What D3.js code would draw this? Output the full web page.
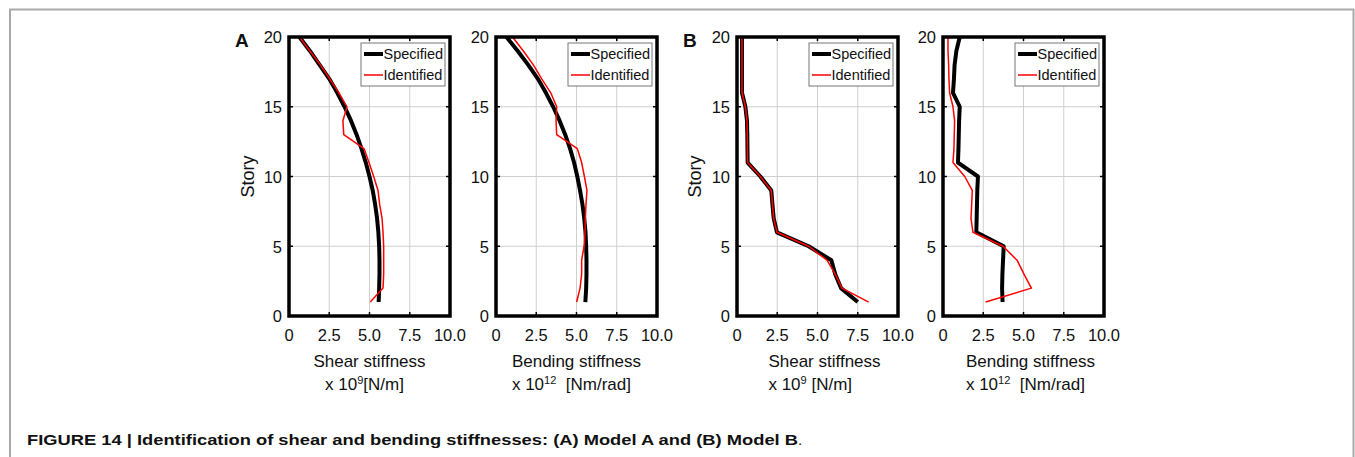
<!DOCTYPE html>
<html>
<head>
<meta charset="utf-8">
<script src="https://cdn.jsdelivr.net/npm/d3@7"></script>
<style>
html,body{margin:0;padding:0;background:#fff;}
svg{display:block;font-family:"Liberation Sans",Arial,Helvetica,sans-serif;}
</style>
</head>
<body>
<svg id="chart" width="1355" height="457"></svg>
<script>
// ---- data ----
const stories = [1,2,3,4,5,6,7,8,9,10,11,12,13,14,15,16,17,18,19,20];
const xTicks = [0, 2.5, 5, 7.5, 10];
const xTickLabels = ["0", "2.5", "5.0", "7.5", "10.0"];
const yTicks = [0, 5, 10, 15, 20];
const seriesNames = ["Specified", "Identified"];

const aShearSpecified   = [5.57,5.6,5.62,5.62,5.6,5.55,5.47,5.35,5.2,5.0,4.77,4.5,4.2,3.85,3.45,3.0,2.5,1.9,1.3,0.65];
const aShearIdentified  = [5.05,5.84,5.88,5.88,5.88,5.84,5.78,5.63,5.53,5.26,4.97,4.66,3.4,3.35,3.6,3.1,2.53,1.95,1.3,0.65];
const aBendSpecified    = [5.55,5.6,5.62,5.62,5.6,5.56,5.48,5.37,5.22,5.05,4.85,4.6,4.3,3.95,3.55,3.1,2.6,2.0,1.35,0.65];
const aBendIdentified   = [5.01,5.22,5.32,5.32,5.47,5.53,5.55,5.59,5.65,5.49,5.32,5.05,3.77,3.73,3.77,3.4,2.84,2.32,1.7,1.03];
const bShearSpecified   = [7.5,6.46,6.1,5.86,4.45,2.48,2.28,2.2,2.13,1.45,0.66,0.65,0.64,0.62,0.52,0.31,0.31,0.31,0.31,0.31];
const bShearIdentified  = [8.18,6.52,6.1,5.59,4.45,2.48,2.28,2.2,2.13,1.45,0.66,0.65,0.64,0.62,0.52,0.31,0.31,0.31,0.31,0.31];
const bBendSpecified    = [3.7,3.67,3.69,3.73,3.77,2.07,2.09,2.11,2.13,2.17,0.93,0.96,0.98,1.0,1.04,0.62,0.68,0.72,0.83,1.04];
const bBendIdentified   = [2.65,5.49,5.03,4.6,3.73,1.86,1.74,1.78,1.82,1.35,0.62,0.68,0.7,0.72,0.62,0.41,0.37,0.35,0.31,0.31];

const panels = [
  {x0:289, spec:aShearSpecified, ident:aShearIdentified, title:"Shear stiffness", exp:"9", unit:"[N/m]", gap:"", story:true, storyDx:35, letter:"A", titleDx:0, center2:true},
  {x0:496, spec:aBendSpecified,  ident:aBendIdentified,  title:"Bending stiffness", exp:"12", unit:"[Nm/rad]", gap:"\u00a0\u00a0", story:false, titleDx:0, center2:false},
  {x0:737, spec:bShearSpecified, ident:bShearIdentified, title:"Shear stiffness", exp:"9", unit:"[N/m]", gap:"\u00a0", story:true, storyDx:36, letter:"B", titleDx:7, center2:false},
  {x0:943, spec:bBendSpecified,  ident:bBendIdentified,  title:"Bending stiffness", exp:"12", unit:"[Nm/rad]", gap:"\u00a0\u00a0", story:false, titleDx:7, center2:false}
];

const svg = d3.select("#chart");
// page frame
svg.append("path").attr("d","M10,457V9.5H1353.5V457").attr("fill","none").attr("stroke","#a9a9a9").attr("stroke-width",2);

const W = 161, yTop = 37, yBot = 316;
const y = d3.scaleLinear().domain([0,20]).range([yBot, yTop]);

panels.forEach(p => {
  const x = d3.scaleLinear().domain([0,10]).range([p.x0, p.x0 + W]);
  const g = svg.append("g");
  // grid
  g.selectAll(".gx").data([2.5,5,7.5]).enter().append("line")
    .attr("x1", d=>x(d)).attr("x2", d=>x(d)).attr("y1", yTop).attr("y2", yBot)
    .attr("stroke","#cfcfcf").attr("stroke-width",1);
  g.selectAll(".gy").data([5,10,15]).enter().append("line")
    .attr("y1", d=>y(d)).attr("y2", d=>y(d)).attr("x1", p.x0).attr("x2", p.x0+W)
    .attr("stroke","#cfcfcf").attr("stroke-width",1);
  // inward ticks
  const tl = 4;
  [5,10,15].forEach(v => {
    g.append("line").attr("x1",p.x0).attr("x2",p.x0+tl).attr("y1",y(v)).attr("y2",y(v)).attr("stroke","#000").attr("stroke-width",1.5);
    g.append("line").attr("x1",p.x0+W).attr("x2",p.x0+W-tl).attr("y1",y(v)).attr("y2",y(v)).attr("stroke","#000").attr("stroke-width",1.5);
  });
  [2.5,5,7.5].forEach(v => {
    g.append("line").attr("x1",x(v)).attr("x2",x(v)).attr("y1",yBot).attr("y2",yBot-tl).attr("stroke","#000").attr("stroke-width",1.5);
    g.append("line").attr("x1",x(v)).attr("x2",x(v)).attr("y1",yTop).attr("y2",yTop+tl).attr("stroke","#000").attr("stroke-width",1.5);
  });
  // x tick labels
  g.selectAll(".xt").data(xTicks).enter().append("text")
    .attr("x", d=>x(d)).attr("y", 341).attr("text-anchor","middle")
    .attr("font-size", "16.5px").attr("fill","#111")
    .text((d,i)=>xTickLabels[i]);
  // y tick labels
  g.selectAll(".yt").data(yTicks).enter().append("text")
    .attr("x", p.x0 - 7).attr("y", d=>y(d)).attr("dy","0.38em").attr("text-anchor","end")
    .attr("font-size", "16.5px").attr("fill","#111")
    .text(d=>d);
  // lines
  const line = d3.line().x(d=>x(d[0])).y(d=>y(d[1]));
  g.append("path").datum(p.spec.map((v,i)=>[v,stories[i]])).attr("d",line)
    .attr("fill","none").attr("stroke","#000").attr("stroke-width",4).attr("stroke-linejoin","round");
  g.append("path").datum(p.ident.map((v,i)=>[v,stories[i]])).attr("d",line)
    .attr("fill","none").attr("stroke","#ff0000").attr("stroke-width",1.5).attr("stroke-linejoin","round");
  // border
  g.append("rect").attr("x",p.x0).attr("y",yTop).attr("width",W).attr("height",yBot-yTop)
    .attr("fill","none").attr("stroke","#000").attr("stroke-width",3.5);
  // legend
  const lx = p.x0 + W - 89, ly = yTop + 6;
  g.append("rect").attr("x",lx).attr("y",ly).attr("width",84).attr("height",43)
    .attr("fill","#fff").attr("stroke","#777").attr("stroke-width",1);
  seriesNames.forEach((n,i) => {
    const yy = ly + 11 + i*21;
    g.append("line").attr("x1",lx+3).attr("x2",lx+22).attr("y1",yy).attr("y2",yy)
      .attr("stroke", i===0 ? "#000" : "#ff0000").attr("stroke-width", i===0 ? 4 : 1.5);
    g.append("text").attr("x",lx+22.5).attr("y",yy).attr("dy","0.36em")
      .attr("font-size","14.5px").attr("fill","#111").text(n);
  });
  // axis title
  const cx = p.x0 + W/2 + p.titleDx;
  const t1 = g.append("text").attr("x", cx).attr("y", 367).attr("text-anchor","middle")
    .attr("font-size","17px").attr("fill","#111").text(p.title);
  const bb = t1.node().getBBox();
  const t2 = g.append("text").attr("x", bb.x).attr("y", 390)
    .attr("font-size","17px").attr("fill","#111");
  t2.append("tspan").text("x 10");
  t2.append("tspan").attr("font-size","11px").attr("dy","-6").text(p.exp);
  t2.append("tspan").attr("dy","6").text(p.gap + p.unit);
  if (p.center2) {
    const b2 = t2.node().getBBox();
    t2.attr("x", cx - b2.width/2 - 5);
  }
  if (p.story) {
    g.append("text").attr("transform",`translate(${p.x0-p.storyDx},${(yTop+yBot)/2}) rotate(-90)`)
      .attr("text-anchor","middle").attr("font-size","18px").attr("fill","#111").text("Story");
  }
  if (p.letter) {
    g.append("text").attr("x", p.x0 - 54).attr("y", 47).attr("font-weight","bold")
      .attr("font-size","19px").attr("fill","#111").text(p.letter);
  }
});

// caption
const cap = svg.append("text").attr("x", 27).attr("y", 445).attr("font-size","15px").attr("fill","#111");
cap.append("tspan").attr("font-weight","bold")
  .attr("textLength", 771).attr("lengthAdjust","spacingAndGlyphs")
  .text("FIGURE 14 | Identification of shear and bending stiffnesses: (A) Model A and (B) Model B");
cap.append("tspan").text(".");
</script>
</body>
</html>
